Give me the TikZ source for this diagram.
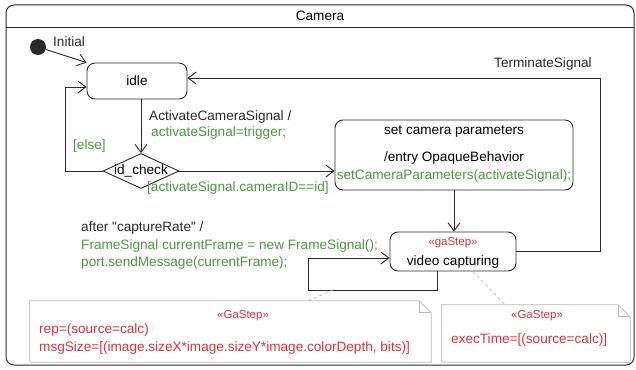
\documentclass[tikz,border=0pt]{standalone}
\usepackage{fontspec}
\setmainfont{Liberation Sans}
\usetikzlibrary{arrows.meta,positioning,shapes.geometric,calc}
\definecolor{ink}{HTML}{2A2A2A}
\definecolor{leaf}{HTML}{4A9A3E}
\definecolor{alert}{HTML}{E0303C}
\definecolor{pale}{HTML}{B8B8B8}

\begin{document}
\begin{tikzpicture}[x=1pt,y=-1pt,
  font=\fontsize{13.6}{16}\selectfont,
  st/.style={rounded corners=8pt,draw=ink,line width=0.9pt,inner sep=0pt},
  choice/.style={diamond,draw=ink,line width=0.9pt,inner sep=0pt,minimum width=76pt,minimum height=35pt},
  txt/.style={inner sep=1pt,anchor=west,text=ink},
  act/.style={inner sep=1pt,anchor=west,text=leaf},
  stereo/.style={inner sep=1pt,text=alert,font=\fontsize{11.5}{13}\selectfont},
  notebox/.style={inner sep=0pt},
  arr/.style={-{Straight Barb[length=8pt,width=12pt]},draw=ink,line width=0.9pt},
  link/.style={draw=pale,dashed,line width=0.7pt}
]
\useasboundingbox (0,0) rectangle (636,369);

% frame
\draw[ink,line width=1pt,rounded corners=8pt] (6,5) rectangle (634,365);
\draw[ink,line width=0.8pt] (6,27) -- (634,27);
\node[inner sep=0pt] (title) at (320,16) {Camera};

% states
\node[circle,fill=ink,minimum size=16pt,inner sep=0pt] (init) at (38,47) {};
\node[txt] (initlbl) at (52,42) {Initial};
\node[st,minimum width=100pt,minimum height=36pt] (idle) at (137,81) {idle};
\node[choice,label=center:id\_check] (check) at (141,171) {};
\node[st,minimum width=238pt,minimum height=70pt] (setp) at (454,155) {};
\node[inner sep=0pt] (setpname) at (454,132) {set camera parameters};
\node[inner sep=0pt] (setpentry) at (454,158) {/entry OpaqueBehavior};
\node[inner sep=0pt,text=leaf] (setpcall) at (454,176) {setCameraParameters(activateSignal);};
\node[st,minimum width=126pt,minimum height=39pt] (video) at (453,251.5) {};
\node[stereo] (videost) at (453,243) {«gaStep»};
\node[inner sep=0pt] (videoname) at (453,262) {video capturing};

% notes
\node[notebox,minimum width=401pt,minimum height=61pt] (noteA) at (230.5,331.5) {};
\node[notebox,minimum width=188pt,minimum height=57pt] (noteB) at (536,333.5) {};
\foreach \n in {noteA,noteB} {
  \draw[pale,line width=0.8pt] (\n.north west) -- ([xshift=-12pt]\n.north east)
    -- ([yshift=-12pt]\n.north east) -- (\n.south east) -- (\n.south west) -- cycle;
  \draw[pale,line width=0.8pt] ([xshift=-12pt]\n.north east) |- ([yshift=-12pt]\n.north east);
}
\node[stereo] (noteAst) at (243,316) {«GaStep»};
\node[txt,text=alert] (noteArep) at (38,330) {rep=(source=calc)};
\node[txt,text=alert] (noteAsize) at (38,348) {msgSize=[(image.sizeX*image.sizeY*image.colorDepth, bits)]};
\node[stereo] (noteBst) at (537,316) {«GaStep»};
\node[txt,text=alert] (noteBtime) at (450,340) {execTime=[(source=calc)]};

% transitions
\coordinate (tr) at (600,78);
\coordinate (elsec) at (65,87);
\coordinate (loopbl) at (308,290);
\coordinate (loopd) at (333,290);

\draw[arr] (init) -- (idle.north west);
\draw[arr] (idle.south -| check.north) -- (check.north);
\node[txt] (trig) at (148,117) {ActivateCameraSignal /};
\node[act] (trigact) at (150,133) {activateSignal=trigger;};
\draw[arr] (check.west) -| (elsec) -- (idle.west |- elsec);
\node[act] (elselbl) at (72,146) {[else]};
\draw[arr] (check.east) -- (setp.west |- check.east);
\node[act] (guard) at (146,188) {[activateSignal.cameraID==id]};
\draw[arr] (setp.south) -- (setp.south |- video.north);
\draw[arr] ([xshift=-16pt]video.south) |- (loopbl) |- ([yshift=-6.5pt]video.west);
\node[txt] (after) at (80,228) {after \textquotedbl captureRate\textquotedbl{} /};
\node[act] (afteract1) at (80,246) {FrameSignal currentFrame = new FrameSignal();};
\node[act] (afteract2) at (80,263) {port.sendMessage(currentFrame);};
\draw[arr] (video.east) -| (tr) -- (idle.east |- tr);
\node[txt] (term) at (493,64) {TerminateSignal};

% note links
\draw[link] (loopd) -- ([xshift=77.5pt]noteA.north);
\draw[link] ([xshift=20pt]video.south) -- ([xshift=-31pt]noteB.north);
\end{tikzpicture}
\end{document}
